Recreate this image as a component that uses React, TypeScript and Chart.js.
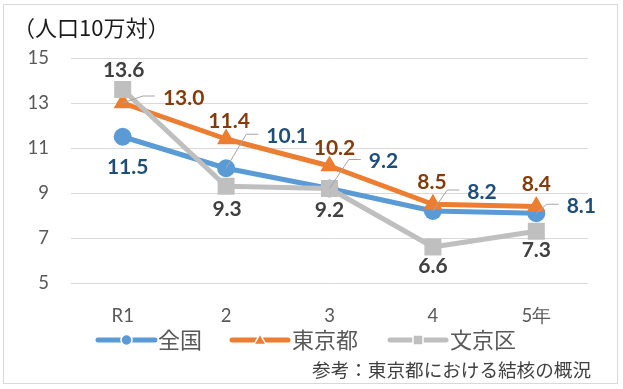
import React, { useEffect, useRef } from 'react';
import { Chart, registerables } from 'chart.js';

Chart.register(...registerables);

// ---- data ----
const categories = ['R1', '2', '3', '4', '5年'];
const zenkoku = [11.5, 10.1, 9.2, 8.2, 8.1];
const tokyo = [13.0, 11.4, 10.2, 8.5, 8.4];
const bunkyo = [13.6, 9.3, 9.2, 6.6, 7.3];
const seriesNames = ['全国', '東京都', '文京区'];
const yTicks = [5, 7, 9, 11, 13, 15];
const titleText = '（人口10万対）';
const sourceText = '参考：東京都における結核の概況';

// ---- styles ----
const colors = ['#5B9BD5', '#ED7D31', '#BFBFBF'];
const labelColors = ['#1F4E79', '#843C0C', '#404040'];
const pointStyles = ['circle', 'triangle', 'rect'];
const pointRadii = [9, 10.5, 12];
// label offsets from the point: [dx, dy, leaderLine]
const labelPlacement: [number, number, boolean][][] = [
  [[5, 29, false], [61, -33, true], [54, -28, true], [49, -20, true], [45, -8, true]],
  [[61, -6, true], [3, -19, false], [5, -19, false], [-1, -23, false], [0, -23, false]],
  [[1, -20, false], [1, 22, false], [0, 21, false], [0, 18, false], [0, 18, false]],
];
const legendItems = [
  { lineFrom: 98, lineTo: 155, textX: 158 },
  { lineFrom: 232, lineTo: 288, textX: 292 },
  { lineFrom: 390, lineTo: 446, textX: 450 },
];

const NUM_FONT = 'Lato, "Noto Sans", sans-serif';
const JP_FONT = '"Noto Sans CJK JP", "Noto Sans", sans-serif';

const decorPlugin = {
  id: 'decor',
  beforeDraw(chart: any) {
    const ctx = chart.ctx;
    ctx.save();
    ctx.fillStyle = '#ffffff';
    ctx.fillRect(0, 0, chart.width, chart.height);
    ctx.restore();
  },
  afterDatasetsDraw(chart: any) {
    const ctx = chart.ctx;
    ctx.save();
    ctx.font = `bold 21px ${NUM_FONT}`;
    ctx.textBaseline = 'middle';
    ctx.textAlign = 'left';
    chart.data.datasets.forEach((ds: any, i: number) => {
      const meta = chart.getDatasetMeta(i);
      meta.data.forEach((pt: any, j: number) => {
        const [dx, dy, leader] = labelPlacement[i][j];
        const text = Number(ds.data[j]).toFixed(1);
        const w = ctx.measureText(text).width;
        const cx = pt.x + dx;
        const cy = pt.y + dy;
        const left = cx - w / 2;
        if (leader) {
          ctx.strokeStyle = '#A6A6A6';
          ctx.lineWidth = 1;
          ctx.beginPath();
          ctx.moveTo(pt.x, pt.y);
          ctx.lineTo(left - 20, cy - 1);
          ctx.lineTo(left - 8, cy - 1);
          ctx.stroke();
        }
        ctx.fillStyle = labelColors[i];
        ctx.fillText(text, left, cy + 1);
      });
    });
    ctx.restore();
  },
  afterDraw(chart: any) {
    const ctx = chart.ctx;
    ctx.save();
    // frame
    ctx.strokeStyle = '#D9D9D9';
    ctx.lineWidth = 1;
    ctx.strokeRect(3.5, 4.5, 614, 379);
    // title
    ctx.fillStyle = '#1a1a1a';
    ctx.font = `22px ${JP_FONT}`;
    ctx.textBaseline = 'middle';
    ctx.textAlign = 'left';
    ctx.fillText(titleText, 13, 28);
    // legend
    const ly = 340;
    legendItems.forEach((it, i) => {
      ctx.strokeStyle = colors[i];
      ctx.lineWidth = 5;
      ctx.lineCap = 'round';
      ctx.beginPath();
      ctx.moveTo(it.lineFrom, ly);
      ctx.lineTo(it.lineTo, ly);
      ctx.stroke();
      const mx = (it.lineFrom + it.lineTo) / 2;
      ctx.fillStyle = colors[i];
      ctx.strokeStyle = '#ffffff';
      ctx.lineWidth = 1.5;
      ctx.beginPath();
      if (pointStyles[i] === 'circle') {
        ctx.arc(mx, ly, 5.5, 0, Math.PI * 2);
      } else if (pointStyles[i] === 'triangle') {
        ctx.moveTo(mx, ly - 6);
        ctx.lineTo(mx + 6, ly + 4.5);
        ctx.lineTo(mx - 6, ly + 4.5);
        ctx.closePath();
      } else {
        ctx.rect(mx - 5, ly - 5, 10, 10);
      }
      ctx.fill();
      ctx.stroke();
      ctx.fillStyle = '#595959';
      ctx.font = `22px ${JP_FONT}`;
      ctx.textBaseline = 'middle';
      ctx.fillText(seriesNames[i], it.textX, ly);
    });
    // source
    ctx.fillStyle = '#404040';
    ctx.font = `18.6px ${JP_FONT}`;
    ctx.textAlign = 'right';
    ctx.fillText(sourceText, 591, 370);
    ctx.restore();
  },
};

export default function App() {
  const ref = useRef<HTMLCanvasElement>(null);
  useEffect(() => {
    const canvas = ref.current!;
    const seriesData = [zenkoku, tokyo, bunkyo];
    const chart = new Chart(canvas, {
      type: 'line',
      data: {
        labels: categories,
        datasets: seriesData.map((d, i) => ({
          label: seriesNames[i],
          data: d,
          borderColor: colors[i],
          backgroundColor: colors[i],
          borderWidth: 5,
          borderJoinStyle: 'round',
          borderCapStyle: 'round',
          pointStyle: pointStyles[i],
          pointRadius: pointRadii[i],
          pointBorderWidth: 0,
          pointBackgroundColor: colors[i],
          pointBorderColor: colors[i],
          tension: 0,
          order: 2 - i,
        })) as any,
      },
      options: {
        animation: false,
        responsive: false,
        devicePixelRatio: 1,
        layout: { padding: { left: 0, top: 58, right: 35, bottom: 0 } },
        plugins: {
          legend: { display: false },
          title: { display: false },
          tooltip: { enabled: false },
        },
        scales: {
          x: {
            offset: true,
            grid: { display: false, drawTicks: false },
            border: { display: false },
            ticks: {
              color: '#595959',
              font: { family: NUM_FONT, size: 18.5 },
              padding: 22,
              maxRotation: 0,
            },
            afterFit: (s: any) => {
              s.height = 106;
            },
          },
          y: {
            min: 5,
            max: 15,
            grid: { color: '#D9D9D9', lineWidth: 1, drawTicks: false },
            border: { display: false },
            ticks: {
              color: '#595959',
              font: { family: NUM_FONT, size: 18.5 },
              padding: 22,
            },
            afterBuildTicks: (s: any) => {
              s.ticks = yTicks.map((v) => ({ value: v }));
            },
            afterFit: (s: any) => {
              s.width = 71;
            },
          },
        },
      } as any,
      plugins: [decorPlugin],
    });
    return () => chart.destroy();
  }, []);
  return (
    <div style={{ position: 'fixed', left: 0, top: 0, width: 623, height: 389, background: '#fff' }}>
      <canvas ref={ref} width={623} height={389} style={{ display: 'block', width: 623, height: 389 }} />
    </div>
  );
}
